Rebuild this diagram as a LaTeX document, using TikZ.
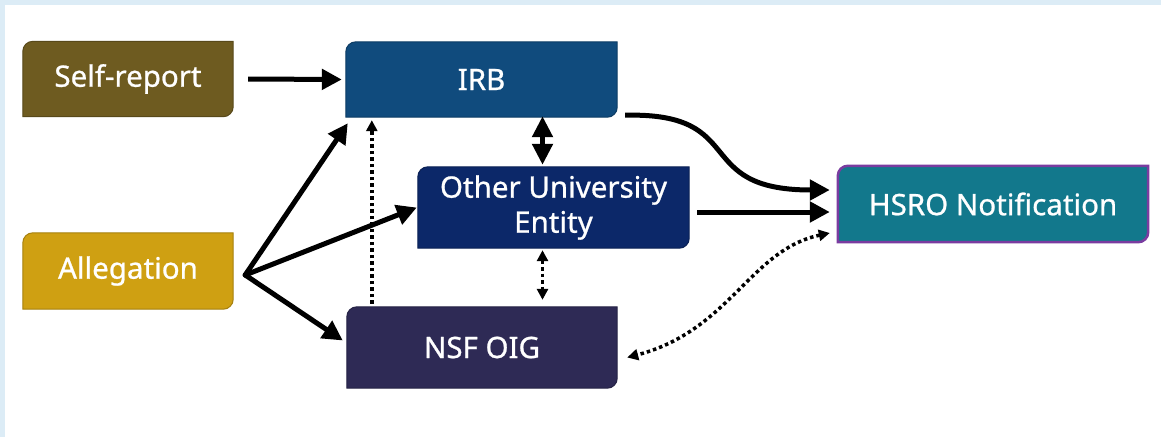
\documentclass[tikz,border=0pt]{standalone}
\usepackage{fontspec}
\setmainfont{Noto Sans}
\newfontfamily\boxfont{Noto Sans}[FakeBold=0.8]
\usetikzlibrary{arrows.meta,backgrounds,calc}

\definecolor{pageblue}{HTML}{DCECF6}
\definecolor{selfcol}{HTML}{6E5B20}
\definecolor{allegcol}{HTML}{CFA012}
\definecolor{irbcol}{HTML}{104B7D}
\definecolor{ouecol}{HTML}{0C2869}
\definecolor{oigcol}{HTML}{2E2A55}
\definecolor{hsrocol}{HTML}{12788C}
\definecolor{hsroedge}{HTML}{7A3CA0}

\def\cornerr{10pt}

% box outline: top-left and bottom-right corners rounded
\newcommand\unitoutline[1]{(#1.north east) -- ([xshift=\cornerr]#1.north west)
  to[out=180,in=90] ([yshift=-\cornerr]#1.north west) -- (#1.south west)
  -- ([xshift=-\cornerr]#1.south east) to[out=0,in=-90] ([yshift=\cornerr]#1.south east) -- cycle}

\tikzset{
  unitbox/.style={inner sep=0pt, text=white, align=center,
    font=\boxfont\fontsize{29.5}{35}\selectfont},
  flow/.style={line width=5pt, -{Triangle[length=20pt,width=20pt]}},
  twoway/.style={line width=5pt, {Triangle[length=21pt,width=20pt]}-{Triangle[length=21pt,width=20pt]}},
  maybe/.style={line width=3.5pt, dash pattern=on 3.5pt off 3pt, -{Triangle[length=11pt,width=11pt]}},
  maybeboth/.style={maybe, {Triangle[length=11pt,width=11pt]}-{Triangle[length=11pt,width=11pt]}}
}

\begin{document}
\begin{tikzpicture}[x=1pt,y=-1pt]
    \useasboundingbox (0,0) rectangle (1161,437);

    \node[unitbox, minimum width=210pt, minimum height=75pt] (selfreport) at (128,79)  {Self-report};
    \node[unitbox, minimum width=210pt, minimum height=76pt] (allegation) at (128,271) {Allegation};
    \node[unitbox, minimum width=271pt, minimum height=75pt] (irb) at (481.5,79.5) {IRB};
    \node[unitbox, minimum width=271pt, minimum height=81pt] (oue) at (553.5,207.5)
      {Other University\\Entity};
    \node[unitbox, minimum width=270pt, minimum height=81pt] (oig) at (482,347.5) {NSF OIG};
    \node[unitbox, minimum width=310pt, minimum height=76pt] (hsro) at (993,204) {HSRO Notification};

    \begin{scope}[on background layer]
      \fill[pageblue] (0,0) rectangle (1161,437);
      \fill[white] (5,5) rectangle (1161,437);
      \foreach \n/\c in {selfreport/selfcol, allegation/allegcol, irb/irbcol, oue/ouecol, oig/oigcol, hsro/hsrocol}
        \filldraw[fill=\c, draw=\c!80!black, line width=1pt] \unitoutline{\n};
      \draw[hsroedge, line width=2.5pt] \unitoutline{hsro};
    \end{scope}

    \coordinate (fan) at ($(allegation.east)+(12,4)$);

    \draw[flow] ($(selfreport.east)+(15,0)$) -- ($(irb.west)+(-4,0)$);
    \draw[flow, line cap=round] (fan) -- ($(irb.south west)+(2,6)$);
    \draw[flow, line cap=round] (fan) -- ($(oue.west)+(-1,0)$);
    \draw[flow, line cap=round] (fan) -- ($(oig.west)+(-4,-7)$);
    \draw[maybe] ($(oig.north west)+(25,-3)$) -- ($(irb.south west)+(26,3)$);
    \draw[twoway] ($(irb.south)+(61,-1)$) -- ($(oue.north)+(-11,-2)$);
    \draw[maybeboth] ($(oue.south)+(-11,2)$) -- ($(oig.north)+(60.5,-7)$);
    \draw[flow] ($(irb.south east)+(8,-2)$) .. controls +(125,-3) and +(-140,0) .. ($(hsro.west)+(-8,-14)$);
    \draw[flow] ($(oue.east)+(8,4.5)$) -- ($(hsro.west)+(-8,8)$);
    \draw[maybeboth] ($(hsro.west)+(-8,29)$) .. controls +(-80,17) and +(103,-27) .. ($(oig.east)+(10,10)$);
\end{tikzpicture}
\end{document}
